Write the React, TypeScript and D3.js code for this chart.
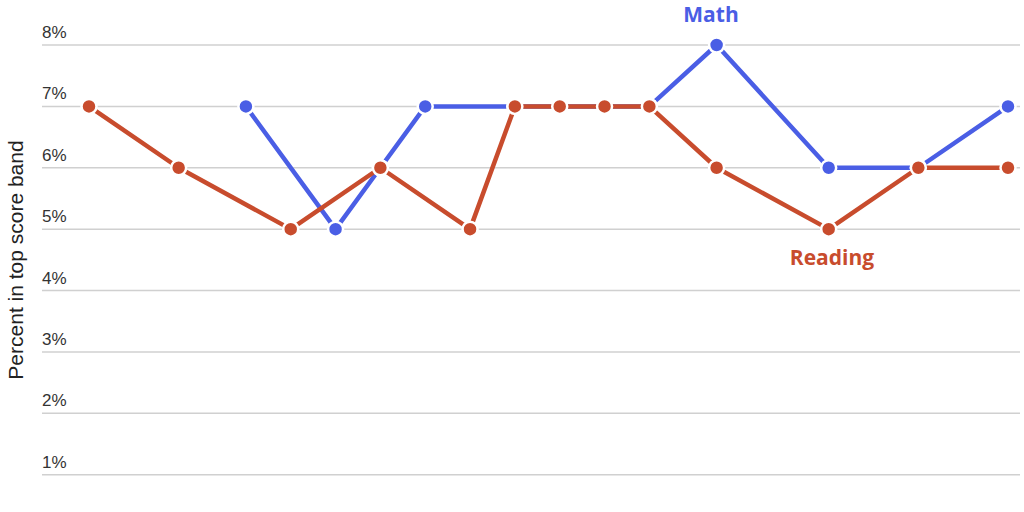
import React from 'react';
import * as d3 from 'd3';

type Point = {year: number, value: number};

// survey waves (years, some mid-year) and percent in top score band
const readingYears = [2000, 2002, 2004.5, 2006.5, 2008.5, 2009.5, 2010.5, 2011.5, 2012.5, 2014, 2016.5, 2018.5, 2020.5];
const readingValues = [7, 6, 5, 6, 5, 7, 7, 7, 7, 6, 5, 6, 6];
const mathYears = [2003.5, 2005.5, 2006.5, 2007.5, 2009.5, 2010.5, 2011.5, 2012.5, 2014, 2016.5, 2018.5, 2020.5];
const mathValues = [7, 5, 6, 7, 7, 7, 7, 7, 8, 6, 6, 7];
const yTickValues = [1, 2, 3, 4, 5, 6, 7, 8];

const width = 1024;
const height = 512;
const gridLeft = 42;
const gridRight = 1020;
const fontFamily = '"Liberation Sans", Arial, sans-serif';
const labelFont = '"Open Sans", Roboto, sans-serif';
const mathColor = '#4a5ee5';
const readingColor = '#c84c2d';

const xScale = d3.scaleLinear().domain([2000, 2020.5]).range([89, 1008]);
const yScale = d3.scaleLinear().domain([0, 8]).range([536, 45]);

const zip = (xs: number[], ys: number[]): Point[] => xs.map((x, i) => ({year: x, value: ys[i]}));
const reading = zip(readingYears, readingValues);
const math = zip(mathYears, mathValues);

const lineGen = d3.line<Point>().x(d => xScale(d.year)).y(d => yScale(d.value));

const Series = ({data, color}: {data: Point[], color: string}) => (
  <g>
    <path d={lineGen(data) || ''} fill="none" stroke={color} strokeWidth={4.5} strokeLinejoin="round"/>
    {data.map(d => (
      <circle key={d.year} cx={xScale(d.year)} cy={yScale(d.value)} r={7.5} fill={color} stroke="white" strokeWidth={2.5}/>
    ))}
  </g>
);

const App = () => {
  return (
    <svg width={width} height={height} style={{position: 'absolute', left: 0, top: 0, background: 'white'}}>
      {yTickValues.map(v => (
        <g key={v}>
          <line x1={gridLeft} x2={gridRight} y1={yScale(v)} y2={yScale(v)} stroke="#d0d0d0" strokeWidth={1.5}/>
          <text x={gridLeft} y={yScale(v) - 7} fontSize={17} fill="#333" fontFamily={fontFamily}>{v}%</text>
        </g>
      ))}
      <text transform={`translate(23, 260) rotate(-90)`} textAnchor="middle" fontSize={21} fill="#222" fontFamily={fontFamily}>
        Percent in top score band
      </text>
      <Series data={math} color={mathColor}/>
      <Series data={reading} color={readingColor}/>
      <text x={711} y={22} textAnchor="middle" fontSize={21} fontWeight="bold" fill={mathColor} fontFamily={labelFont}>Math</text>
      <text x={832} y={265} textAnchor="middle" fontSize={21} fontWeight="bold" fill={readingColor} fontFamily={labelFont}>Reading</text>
    </svg>
  );
};

export default App;
